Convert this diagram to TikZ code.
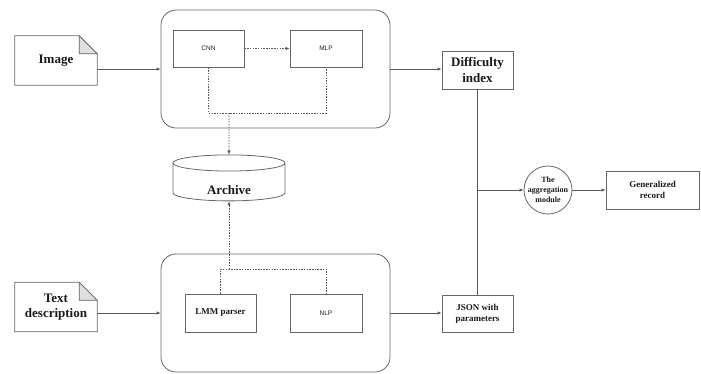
\documentclass[tikz,border=0pt]{standalone}
\usepackage{fontspec}
\setmainfont{Liberation Serif}
\setsansfont{Liberation Sans}
\usetikzlibrary{calc,shapes.geometric,arrows.meta}
\tikzset{
  box/.style={draw=black!60, line width=0.8pt, minimum width=71pt, minimum height=37pt, inner sep=1pt, align=center, text=black!90},
  group/.style={draw=black!60, line width=0.8pt, rounded corners=15pt, minimum width=229pt, minimum height=118pt},
  docbox/.style={minimum width=82pt, minimum height=49pt, inner sep=1pt, align=center, text=black!90, font=\fontsize{13}{15}\selectfont\bfseries},
  link/.style={line width=0.8pt, color=black!65, -{Latex[length=4pt,width=3.5pt]}},
  dots/.style={line width=0.8pt, color=black!65, dash pattern=on 1.5pt off 1.2pt},
}
\def\docshape[#1](#2){\draw[#1] (#2.north west) -- ($(#2.north east)+(-18,0)$) -- ($(#2.north east)+(0,18)$) -- (#2.south east) -- (#2.south west) -- cycle;
  \draw[#1, fill=black!12] ($(#2.north east)+(-18,0)$) -- ($(#2.north east)+(-18,18)$) -- ($(#2.north east)+(0,18)$) -- cycle;}

\begin{document}
\begin{tikzpicture}[x=1pt, y=-1pt]
		%%%%% START %%%%%
		\useasboundingbox (0,0) rectangle (701,373);
		
		% inputs
		\node[docbox] (img) at (56, 60.5) {Image};
		\docshape[line width=0.8pt, color=black!60](img);
		\node[docbox] (descr) at (56, 307) {Text\\description};
		\docshape[line width=0.8pt, color=black!60](descr);
		
		% image branch
		\node[group] (imgproc) at (275.5, 69) {};
		\node[box, font=\sffamily\fontsize{6.5}{8}\selectfont] (cnn) at (208.5, 48.5) {CNN};
		\node[box, font=\sffamily\fontsize{6.5}{8}\selectfont, minimum width=72pt] (mlp) at (326, 48.5) {MLP};
		
		% text branch
		\node[group] (txtproc) at (275.5, 313) {};
		\node[box, font=\bfseries\fontsize{9}{11}\selectfont, minimum height=38pt] (lmm) at (220.5, 313) {LMM parser};
		\node[box, font=\sffamily\fontsize{6.5}{8}\selectfont, minimum width=72pt, minimum height=38pt] (nlp) at (326, 313) {NLP};
		
		\node[cylinder, shape border rotate=90, draw=black!60, line width=0.8pt, aspect=0.32, minimum width=112pt, minimum height=46pt, text=black!90, font=\fontsize{13}{15}\selectfont\bfseries] (archive) at (229, 183.5) {\raisebox{-11pt}[0pt][0pt]{Archive}};
		
		% outputs
		\node[box, font=\fontsize{13}{16}\selectfont\bfseries, minimum height=38pt] (diff) at (477.5, 70) {Difficulty\\index};
		\node[box, font=\bfseries\fontsize{9}{11}\selectfont] (json) at (477.5, 313.5) {JSON with\\parameters};
		\node[circle, draw=black!60, line width=0.8pt, minimum size=48pt, inner sep=0pt, align=center, text=black!90, font=\bfseries\fontsize{8}{10}\selectfont] (agg) at (548, 190) {The\\aggregation\\module};
		\node[box, font=\bfseries\fontsize{9}{10.5}\selectfont, minimum width=93pt, minimum height=38pt] (gen) at (652.5, 190) {Generalized\\record};
		
		\coordinate (topjoin) at (229, 113);
		\coordinate (botjoin) at (229, 269);
		\coordinate (fork) at (diff.south |- agg.west);
		
		\draw[dots, -{Latex[length=4pt,width=3.5pt]}] (cnn.east) -- (mlp.west);
		\draw[dots] (cnn.south) |- (topjoin) -| (mlp.south);
		\draw[dots, -{Latex[length=4pt,width=3.5pt]}] (topjoin) -- (archive.north);
		\draw[dots] (lmm.north) |- (botjoin) -| (nlp.north);
		\draw[dots, -{Latex[length=4pt,width=3.5pt]}] (botjoin) -- (archive.south);
		
		\draw[link] (img.east |- imgproc.west) -- (imgproc.west);
		\draw[link] (descr.east |- txtproc.west) -- (txtproc.west);
		\draw[link] (imgproc.east) -- (imgproc.east -| diff.west);
		\draw[link] (txtproc.east) -- (txtproc.east -| json.west);
		\draw[line width=0.8pt, color=black!65] (diff.south) -- (json.north);
		\draw[link] (fork) -- (agg.west);
		\draw[link] (agg.east) -- (gen.west);
		
		%%%%% END %%%%%
	\end{tikzpicture}
\end{document}
